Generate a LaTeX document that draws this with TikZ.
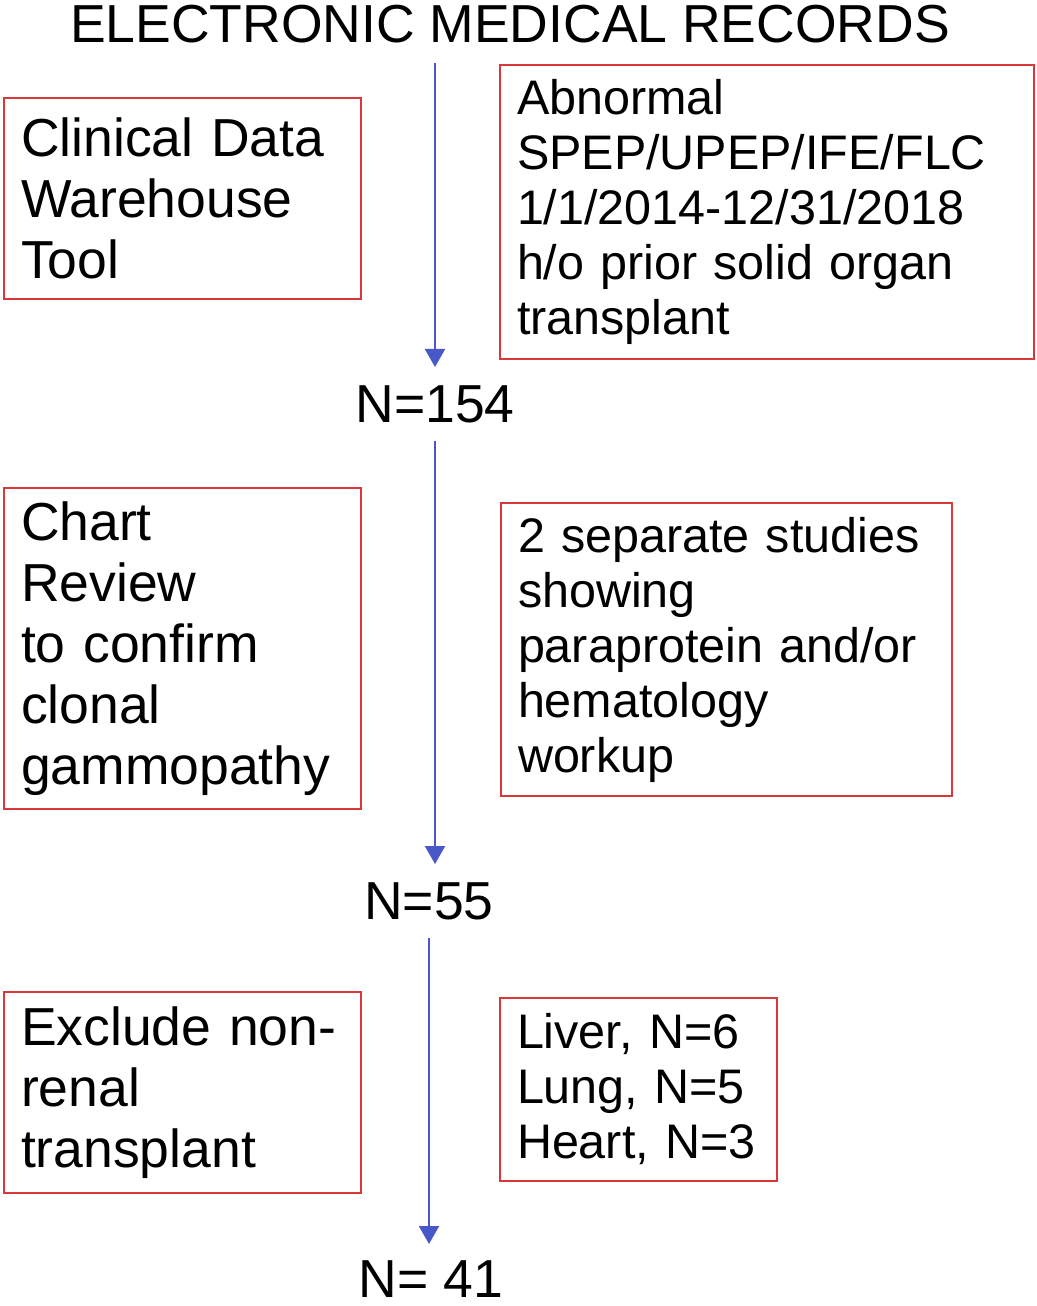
\documentclass[tikz,border=0pt]{standalone}
\usepackage{fontspec}
\setmainfont{Liberation Sans}
\usepackage{xcolor}
\usetikzlibrary{arrows.meta,positioning,calc}

\definecolor{boxred}{RGB}{218,56,56}
\definecolor{flowblue}{RGB}{72,88,200}

\begin{document}
\begin{tikzpicture}[
    x=1pt, y=-1pt,
    bigfont/.style={font=\fontsize{53.5}{61}\selectfont},
    smallfont/.style={font=\fontsize{48.5}{55}\selectfont},
    box/.style={rectangle, draw=boxred, line width=2pt, anchor=north west, align=left, inner xsep=17pt, inner ysep=0pt},
    leftbox/.style={box, bigfont, text width=323pt},
    rightbox/.style={box, smallfont},
    count/.style={bigfont, anchor=base, inner xsep=0pt, inner ysep=18pt},
    flow/.style={-{Triangle[width=20pt,length=18pt]}, draw=flowblue, line width=2pt}
]
    \useasboundingbox (0,0) rectangle (1036,1306);

    \node[bigfont, anchor=base, inner xsep=0pt, inner ysep=19pt] (emr) at (510,43) {ELECTRONIC MEDICAL RECORDS};

    % step 1
    \node[leftbox, minimum height=201pt] (cdw) at (3,97) {Clinical Data\\Warehouse\\Tool};
    \node[rightbox, text width=500pt, minimum height=294pt] (abn) at (499,64) {Abnormal\\SPEP/UPEP/IFE/FLC\\1/1/2014-12/31/2018\\h/o prior solid organ\\transplant};
    \node[count] (n154) at (435,422) {N=154};

    % step 2
    \node[leftbox, minimum height=321pt] (chart) at (3,487) {Chart\\Review\\to confirm\\clonal\\gammopathy};
    \node[rightbox, text width=417pt, minimum height=293pt] (sep) at (500,502) {2 separate studies\\showing\\paraprotein and/or\\hematology\\workup};
    \node[count] (n55) at (429,919) {N=55};

    % step 3
    \node[leftbox, minimum height=201pt] (excl) at (3,991) {Exclude non-\\renal\\transplant};
    \node[rightbox, text width=243pt, minimum height=183pt] (organs) at (499,997) {Liver, N=6\\Lung, N=5\\Heart, N=3};
    \node[count, inner ysep=4pt] (n41) at (431,1297) {N= 41};

    \draw[flow] (emr.south -| n154) -- (n154.north);
    \draw[flow] (n154.south) -- (n154.south |- n55.north);
    \draw[flow, shorten >=12pt] (n55.south) -- (n55.south |- n41.north);
\end{tikzpicture}
\end{document}
